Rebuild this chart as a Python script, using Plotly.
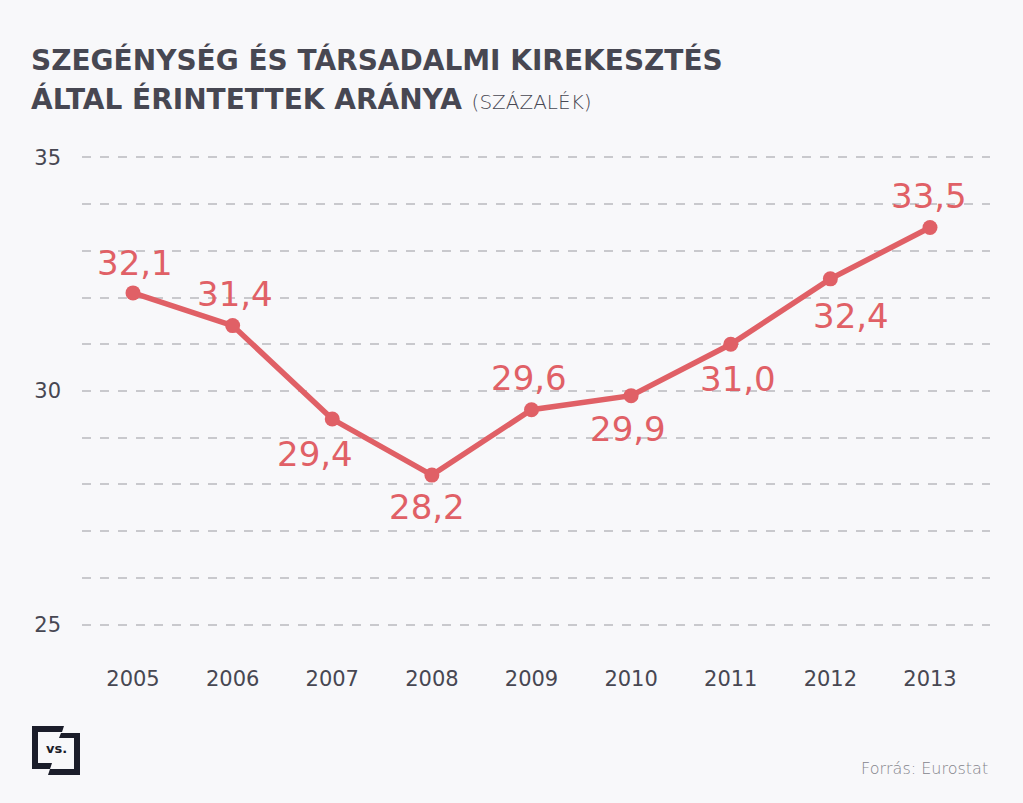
import plotly.graph_objects as go

years = [2005, 2006, 2007, 2008, 2009, 2010, 2011, 2012, 2013]
values = [32.1, 31.4, 29.4, 28.2, 29.6, 29.9, 31.0, 32.4, 33.5]
y_ticks = [25, 30, 35]
title_line1 = "SZEGÉNYSÉG ÉS TÁRSADALMI KIREKESZTÉS"
title_line2 = "ÁLTAL ÉRINTETTEK ARÁNYA"
title_unit = "(SZÁZALÉK)"
source = "Forrás: Eurostat"

# label offsets in pixels (style)
label_shift = [(2, -30), (2, -32), (-17, 35), (-5, 32), (-3, -32),
               (-3, 33), (7, 35), (21, 37), (-1, -31)]

W, H = 1023, 803
L, R, T, B = 82, 33, 156, 177
RED = "#e06066"
DARK = "#474752"
BG = "#f8f8fa"
FONT = "DejaVu Sans"

def px(x):
    return (x - L) / (W - L - R)

def py(y):
    return 1 - (y - T) / (H - T - B)

fig = go.Figure()
fig.add_trace(go.Scatter(
    x=years, y=values, mode="lines+markers",
    line=dict(color=RED, width=5.5),
    marker=dict(color=RED, size=15),
    hoverinfo="x+y", showlegend=False,
))

for (xv, yv), (dx, dy) in zip(zip(years, values), label_shift):
    fig.add_annotation(
        x=xv, y=yv, text=f"{yv:.1f}".replace(".", ","), showarrow=False,
        xshift=dx, yshift=-dy,
        font=dict(family=FONT, size=34, color=RED, weight=400),
    )

fig.add_annotation(
    xref="paper", yref="paper", x=px(29), y=py(60), xanchor="left", yanchor="middle",
    text=title_line1, showarrow=False,
    font=dict(family=FONT, size=28, color=DARK, weight=700),
)
fig.add_annotation(
    xref="paper", yref="paper", x=px(29), y=py(99), xanchor="left", yanchor="middle",
    text=f"{title_line2} <span style='font-size:20px;font-weight:200'>{title_unit}</span>",
    showarrow=False,
    font=dict(family=FONT, size=28, color=DARK, weight=700),
)
fig.add_annotation(
    xref="paper", yref="paper", x=px(990), y=py(768), xanchor="right", yanchor="middle",
    text=source, showarrow=False,
    font=dict(family=FONT, size=16, color="#85858c", weight=200),
)

# logo
LOGO = "#1b1d2a"
def path(pts):
    return "M " + " L ".join(f"{px(a)},{py(b)}" for a, b in pts) + " Z"

fig.add_shape(type="path", xref="paper", yref="paper", line_width=0, fillcolor=LOGO,
              path=path([(32, 726), (64, 726), (62, 732), (38, 732), (38, 763),
                         (52, 763), (50, 769), (32, 769)]))
fig.add_shape(type="path", xref="paper", yref="paper", line_width=0, fillcolor=LOGO,
              path=path([(61, 733), (80, 733), (80, 775), (48, 775), (50, 769),
                         (74, 769), (74, 738), (59, 738)]))
fig.add_annotation(xref="paper", yref="paper", x=px(56.5), y=py(748), text="<b>vs.</b>",
                   xanchor="center", yanchor="middle",
                   showarrow=False, font=dict(family=FONT, size=13, color=LOGO))

fig.update_xaxes(
    range=[2005 - 51 / 99.6, 2013 + 60 / 99.6],
    tickvals=years, ticktext=[str(y) for y in years],
    showgrid=False, zeroline=False, showline=False, ticks="",
    ticklabelstandoff=38,
    tickfont=dict(family=FONT, size=21, color=DARK, weight=400),
)
fig.update_yaxes(
    range=[24.97, 35.03],
    tickvals=y_ticks, showgrid=True, gridcolor="#c9c9cd", gridwidth=1.5, griddash="dash",
    minor=dict(dtick=1, showgrid=True, gridcolor="#c9c9cd", gridwidth=1.5, griddash="dash"),
    zeroline=False, showline=False, ticks="",
    ticklabelstandoff=20,
    tickfont=dict(family=FONT, size=21, color=DARK, weight=400),
)
fig.update_layout(
    width=W, height=H, margin=dict(l=L, r=R, t=T, b=B),
    paper_bgcolor=BG, plot_bgcolor=BG,
)
fig.write_html("out.html", config={"displayModeBar": False},
               post_script="document.body.style.margin='0';")
